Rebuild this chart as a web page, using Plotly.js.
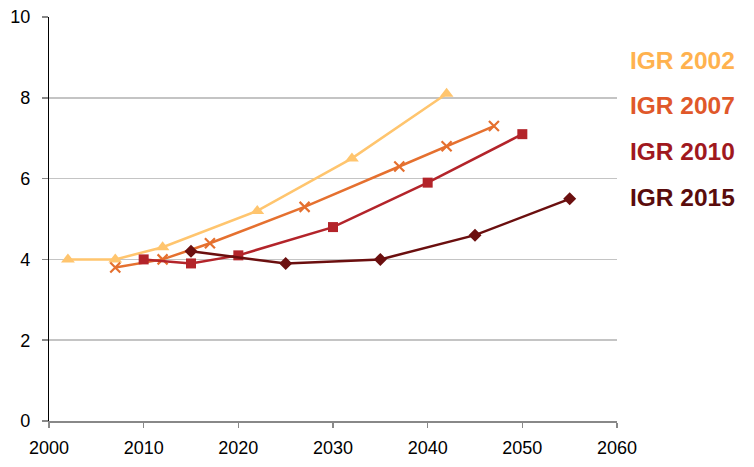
<!DOCTYPE html>
<html>
<head>
<meta charset="utf-8">
<script src="https://cdn.plot.ly/plotly-3.0.1.min.js"></script>
<style>html,body{margin:0;padding:0;background:#fff;}#chart{width:754px;height:467px;}</style>
</head>
<body>
<div id="chart"></div>
<script>
var seriesNames = ["IGR 2002", "IGR 2007", "IGR 2010", "IGR 2015"];

var years2002 = [2002, 2007, 2012, 2022, 2032, 2042];
var values2002 = [4.0, 4.0, 4.3, 5.2, 6.5, 8.1];

var years2007 = [2007, 2012, 2017, 2027, 2037, 2042, 2047];
var values2007 = [3.8, 4.0, 4.4, 5.3, 6.3, 6.8, 7.3];

var years2010 = [2010, 2015, 2020, 2030, 2040, 2050];
var values2010 = [4.0, 3.9, 4.1, 4.8, 5.9, 7.1];

var years2015 = [2015, 2025, 2035, 2045, 2055];
var values2015 = [4.2, 3.9, 4.0, 4.6, 5.5];

var xTickVals = [2000, 2010, 2020, 2030, 2040, 2050, 2060];
var yTickVals = [0, 2, 4, 6, 8, 10];

var lineColors = ["#FFC56E", "#E5702F", "#B3242A", "#6B0F0F"];
var textColors = ["#FFB24F", "#E0582A", "#A0181E", "#5A0C0C"];
var symbols = ["triangle-up", "x-thin-open", "square", "diamond"];
var markerSizes = [12, 10, 10, 10];
var legendY = [0.893, 0.782, 0.666, 0.552];

var allX = [years2002, years2007, years2010, years2015];
var allY = [values2002, values2007, values2010, values2015];

var traces = allX.map(function (xs, i) {
  return {
    x: xs, y: allY[i], name: seriesNames[i], type: "scatter", mode: "lines+markers",
    line: {color: lineColors[i], width: 2.5},
    marker: {symbol: symbols[i], size: markerSizes[i], color: lineColors[i],
             line: {color: lineColors[i], width: i === 1 ? 2.2 : 0}},
    hoverinfo: "x+y"
  };
});

var annotations = seriesNames.map(function (n, i) {
  return {
    text: "<b>" + n + "</b>", xref: "paper", yref: "paper", x: 1.019, y: legendY[i],
    xanchor: "left", yanchor: "middle", showarrow: false,
    font: {family: "Liberation Sans, Arial, sans-serif", size: 24.5, color: textColors[i]}
  };
});

var layout = {
  width: 754, height: 467,
  margin: {l: 49, r: 137, t: 17, b: 46},
  paper_bgcolor: "#ffffff", plot_bgcolor: "#ffffff",
  showlegend: false,
  font: {family: "Liberation Sans, Arial, sans-serif", size: 18, color: "#000"},
  xaxis: {
    range: [2000, 2060], tickvals: xTickVals, ticktext: xTickVals.map(String),
    showgrid: false, zeroline: false, showline: true, linecolor: "#888888", linewidth: 1.5,
    ticks: "outside", ticklen: 5, tickcolor: "#888888", tickwidth: 1.5,
    ticklabelstandoff: 5, tickfont: {size: 18, color: "#000"}
  },
  yaxis: {
    range: [0, 10], tickvals: yTickVals, ticktext: yTickVals.map(String),
    showgrid: true, gridcolor: "#c4c4c4", gridwidth: 1.5, zeroline: false,
    showline: true, linecolor: "#000000", linewidth: 1.2,
    ticks: "outside", ticklen: 6, tickcolor: "#888888", tickwidth: 1.5,
    ticklabelstandoff: 8, tickfont: {size: 18, color: "#000"}
  },
  annotations: annotations
};

Plotly.newPlot("chart", traces, layout, {displayModeBar: false, staticPlot: true});
</script>
</body>
</html>
